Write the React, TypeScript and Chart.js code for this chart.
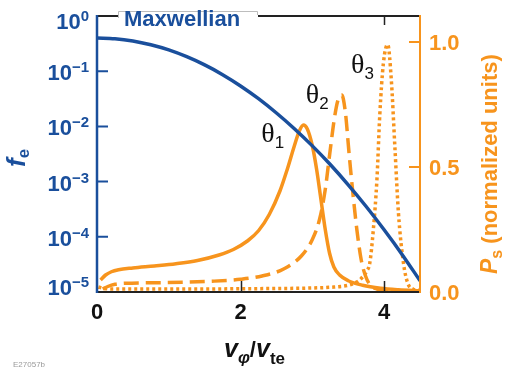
import React, { useEffect, useRef } from "react";
import { Chart, registerables } from "chart.js";

Chart.register(...registerables);

// ---- data ----
const maxwellV = [0, 0.25, 0.5, 0.75, 1.0, 1.25, 1.5, 1.75, 2.0, 2.25, 2.5, 2.75, 3.0, 3.25, 3.5, 3.75, 4.0, 4.25, 4.5];
const maxwellF = [0.4, 0.388, 0.353, 0.301, 0.243, 0.183, 0.13, 0.0866, 0.0541, 0.0318, 0.0175, 0.00908, 0.00444, 0.00204, 0.000875, 0.000354, 0.000134, 0.000048, 0.000016];

const theta1V = [0.05, 0.12, 0.2, 0.3, 0.5, 0.8, 1.1, 1.4, 1.7, 1.9, 2.1, 2.25, 2.4, 2.55, 2.65, 2.75, 2.82, 2.875, 2.93, 3.0, 3.06, 3.12, 3.18, 3.24, 3.3, 3.38, 3.5, 3.7, 3.95, 4.2, 4.5];
const theta1P = [0.048, 0.068, 0.081, 0.089, 0.096, 0.104, 0.113, 0.126, 0.148, 0.17, 0.205, 0.245, 0.31, 0.405, 0.49, 0.585, 0.645, 0.668, 0.652, 0.585, 0.49, 0.37, 0.25, 0.155, 0.1, 0.068, 0.045, 0.027, 0.015, 0.009, 0.005];

const theta2V = [0.08, 0.15, 0.25, 0.4, 0.8, 1.2, 1.6, 2.0, 2.3, 2.6, 2.85, 3.0, 3.1, 3.18, 3.25, 3.31, 3.36, 3.41, 3.46, 3.51, 3.56, 3.62, 3.68, 3.74, 3.8, 3.9, 4.1, 4.5];
const theta2P = [0.012, 0.022, 0.031, 0.035, 0.037, 0.039, 0.043, 0.051, 0.064, 0.092, 0.145, 0.21, 0.29, 0.41, 0.57, 0.7, 0.77, 0.788, 0.72, 0.56, 0.41, 0.25, 0.13, 0.065, 0.03, 0.012, 0.005, 0.003];

const theta3V = [0.02, 0.08, 0.2, 0.5, 1.0, 1.5, 2.0, 2.5, 3.0, 3.3, 3.5, 3.62, 3.7, 3.76, 3.8, 3.85, 3.9, 3.94, 3.99, 4.05, 4.1, 4.15, 4.2, 4.27, 4.33, 4.4, 4.5];
const theta3P = [0.02, 0.015, 0.012, 0.012, 0.012, 0.012, 0.013, 0.014, 0.016, 0.02, 0.027, 0.04, 0.06, 0.085, 0.115, 0.25, 0.45, 0.71, 0.915, 0.99, 0.85, 0.58, 0.315, 0.115, 0.035, 0.012, 0.006];

const seriesNames = ["θ", "θ", "θ"];
const seriesSubs = ["1", "2", "3"];
const labelV = [2.29, 2.91, 3.54];
const labelP = [0.6, 0.756, 0.876];

const xTickValues = [0, 2, 4];
const xTickLabels = ["0", "2", "4"];
const leftTickExponents = [0, -1, -2, -3, -4, -5];
const leftTickLabels = ["0", "−1", "−2", "−3", "−4", "−5"];
const rightTickValues = [0, 0.5, 1.0];
const rightTickLabels = ["0.0", "0.5", "1.0"];

const BLUE = "#1a4f9c";
const ORANGE = "#f7941d";
const SANS = '"Liberation Sans", Arial, sans-serif';
const SERIF = '"Liberation Serif", "Times New Roman", serif';

type Seg = { t: string; font: string; dy?: number; color?: string };

function drawRich(ctx: CanvasRenderingContext2D, segs: Seg[], x: number, y: number) {
  let cx = x;
  for (const s of segs) {
    ctx.font = s.font;
    if (s.color) ctx.fillStyle = s.color;
    ctx.fillText(s.t, cx, y + (s.dy || 0));
    cx += ctx.measureText(s.t).width;
  }
  return cx;
}

const decor = {
  id: "decor",
  afterDraw(chart: any) {
    const ctx: CanvasRenderingContext2D = chart.ctx;
    const { left, right, top, bottom } = chart.chartArea;
    const xs = chart.scales.x;
    const ys = chart.scales.y;
    const y2 = chart.scales.y2;
    ctx.save();
    ctx.lineCap = "butt";

    // frame
    ctx.lineWidth = 2;
    ctx.strokeStyle = "#222";
    ctx.beginPath();
    ctx.moveTo(left, top);
    ctx.lineTo(right, top);
    ctx.moveTo(left, bottom);
    ctx.lineTo(right, bottom);
    ctx.stroke();
    // x ticks (inward, top and bottom)
    ctx.lineWidth = 1.5;
    ctx.beginPath();
    for (const v of xTickValues) {
      if (v === 0) continue;
      const px = Math.round(xs.getPixelForValue(v)) + 0.5;
      ctx.moveTo(px, bottom);
      ctx.lineTo(px, bottom - 11);
      ctx.moveTo(px, top);
      ctx.lineTo(px, top + 9);
    }
    ctx.stroke();

    // left axis
    ctx.strokeStyle = BLUE;
    ctx.lineWidth = 2.5;
    ctx.beginPath();
    ctx.moveTo(left, top - 1);
    ctx.lineTo(left, bottom + 1);
    ctx.stroke();
    ctx.lineWidth = 2;
    ctx.beginPath();
    for (const e of leftTickExponents) {
      if (e === 0 || e === -5) continue;
      const py = ys.getPixelForValue(Math.pow(10, e));
      ctx.moveTo(left, py);
      ctx.lineTo(left + 11, py);
    }
    ctx.stroke();

    // right axis
    ctx.strokeStyle = ORANGE;
    ctx.lineWidth = 2;
    ctx.beginPath();
    ctx.moveTo(right, top - 1);
    ctx.lineTo(right, bottom + 1);
    ctx.stroke();
    ctx.beginPath();
    for (const v of rightTickValues) {
      if (v === 0) continue;
      const py = y2.getPixelForValue(v);
      ctx.moveTo(right, py);
      ctx.lineTo(right - 11, py);
    }
    ctx.stroke();

    // Maxwellian label box
    ctx.fillStyle = "#fff";
    ctx.fillRect(118, 10, 140, 17);
    ctx.strokeStyle = "#bdbdbd";
    ctx.lineWidth = 1;
    ctx.beginPath();
    ctx.moveTo(118.5, 18);
    ctx.lineTo(118.5, 11.5);
    ctx.lineTo(257.5, 11.5);
    ctx.lineTo(257.5, 15);
    ctx.stroke();
    ctx.fillStyle = BLUE;
    ctx.font = `bold 22px ${SANS}`;
    ctx.textBaseline = "alphabetic";
    ctx.textAlign = "left";
    ctx.fillText("Maxwellian", 124, 26);

    // left tick labels
    ctx.textAlign = "right";
    leftTickExponents.forEach((e, i) => {
      let py = ys.getPixelForValue(Math.pow(10, e));
      if (i === 0) py += 4;
      if (i === leftTickExponents.length - 1) py -= 6;
      ctx.fillStyle = BLUE;
      ctx.font = `bold 15px ${SANS}`;
      const ex = leftTickLabels[i];
      const ew = ctx.measureText(ex).width;
      ctx.fillText(ex, 89, py + 1);
      ctx.font = `bold 22px ${SANS}`;
      ctx.fillText("10", 89 - ew, py + 9);
    });

    // right tick labels
    ctx.textAlign = "left";
    ctx.fillStyle = ORANGE;
    ctx.font = `bold 22px ${SANS}`;
    rightTickValues.forEach((v, i) => {
      const py = y2.getPixelForValue(v);
      ctx.fillText(rightTickLabels[i], 429, py + 8);
    });

    // x tick labels
    ctx.textAlign = "center";
    ctx.fillStyle = "#111";
    xTickValues.forEach((v, i) => {
      const px = xs.getPixelForValue(v);
      ctx.fillText(xTickLabels[i], px, 319);
    });

    // x title
    ctx.textAlign = "left";
    drawRich(
      ctx,
      [
        { t: "v", font: `italic bold 25px ${SANS}`, color: "#111" },
        { t: "φ", font: `italic bold 17px ${SANS}`, dy: 6 },
        { t: "/", font: `bold 22px ${SANS}`, dy: 0 },
        { t: "v", font: `italic bold 25px ${SANS}` },
        { t: "te", font: `bold 17px ${SANS}`, dy: 7 },
      ],
      224,
      357
    );

    // left title f_e (rotated)
    ctx.save();
    ctx.translate(25, 167);
    ctx.rotate(-Math.PI / 2);
    drawRich(
      ctx,
      [
        { t: "f", font: `italic bold 26px ${SANS}`, color: BLUE },
        { t: "e", font: `bold 17px ${SANS}`, dy: 4 },
      ],
      0,
      0
    );
    ctx.restore();

    // right title
    ctx.save();
    ctx.translate(497, 274);
    ctx.rotate(-Math.PI / 2);
    drawRich(
      ctx,
      [
        { t: "P", font: `italic bold 23px ${SANS}`, color: ORANGE },
        { t: "s", font: `bold 16px ${SANS}`, dy: 5 },
        { t: " (normalized units)", font: `bold 22px ${SANS}`, dy: 0 },
      ],
      0,
      0
    );
    ctx.restore();

    // series labels
    ctx.fillStyle = "#111";
    seriesNames.forEach((n, i) => {
      const px = xs.getPixelForValue(labelV[i]);
      const py = y2.getPixelForValue(labelP[i]);
      drawRich(
        ctx,
        [
          { t: n, font: `28px ${SERIF}` },
          { t: seriesSubs[i], font: `17px ${SANS}`, dy: 6 },
        ],
        px,
        py
      );
    });

    // figure id
    ctx.fillStyle = "#9a9a9a";
    ctx.font = `8px ${SANS}`;
    ctx.fillText("E27057b", 13, 367);

    ctx.restore();
  },
};

function pts(xv: number[], yv: number[]) {
  return xv.map((x, i) => ({ x, y: yv[i] }));
}

export default function App() {
  const ref = useRef<HTMLCanvasElement>(null);
  useEffect(() => {
    const canvas = ref.current!;
    const chart = new Chart(canvas, {
      type: "scatter",
      data: {
        datasets: [
          {
            label: "Maxwellian",
            data: pts(maxwellV, maxwellF),
            yAxisID: "y",
            borderColor: BLUE,
            borderWidth: 3.5,
            showLine: true,
            pointRadius: 0,
            cubicInterpolationMode: "monotone",
          },
          {
            label: "θ1",
            data: pts(theta1V, theta1P),
            yAxisID: "y2",
            borderColor: ORANGE,
            borderWidth: 3.5,
            showLine: true,
            pointRadius: 0,
            cubicInterpolationMode: "monotone",
          },
          {
            label: "θ2",
            data: pts(theta2V, theta2P),
            yAxisID: "y2",
            borderColor: ORANGE,
            borderWidth: 3.5,
            borderDash: [15, 7],
            showLine: true,
            pointRadius: 0,
            cubicInterpolationMode: "monotone",
          },
          {
            label: "θ3",
            data: pts(theta3V, theta3P),
            yAxisID: "y2",
            borderColor: ORANGE,
            borderWidth: 3.5,
            borderDash: [3, 3],
            showLine: true,
            pointRadius: 0,
            cubicInterpolationMode: "monotone",
          },
        ],
      },
      options: {
        responsive: false,
        animation: false,
        devicePixelRatio: 1,
        layout: { padding: { left: 97, right: 88, top: 16, bottom: 79 } },
        plugins: { legend: { display: false }, tooltip: { enabled: false } },
        scales: {
          x: { type: "linear", min: 0, max: 4.5, display: false },
          y: { type: "logarithmic", min: 1e-5, max: 1, display: false, position: "left" },
          y2: { type: "linear", min: 0, max: 1.104, display: false, position: "right" },
        },
      },
      plugins: [decor],
    } as any);
    return () => chart.destroy();
  }, []);
  return (
    <div style={{ position: "fixed", left: 0, top: 0, width: 508, height: 371, background: "#fff" }}>
      <canvas ref={ref} width={508} height={371} style={{ display: "block", width: 508, height: 371 }} />
    </div>
  );
}
